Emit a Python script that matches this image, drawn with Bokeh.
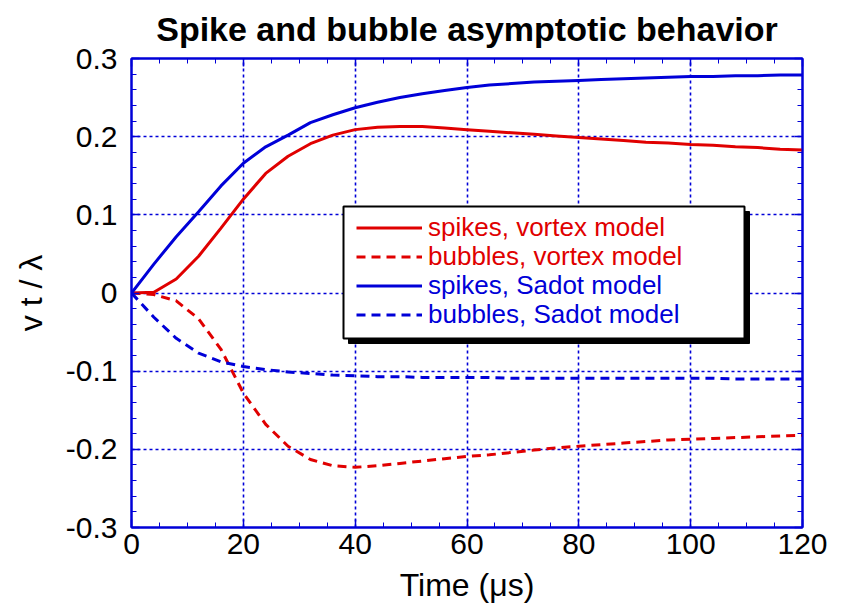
from bokeh.plotting import figure
from bokeh.models import (FixedTicker, LinearAxis, Legend, LegendItem,
                          BoxAnnotation, Range1d, CustomLabelingPolicy)
from bokeh.embed import file_html
from bokeh.resources import INLINE

# ---- data -----------------------------------------------------------------
time_us = [0, 4, 8, 12, 16, 20, 24, 28, 32, 36, 40, 44, 48, 52, 56, 60,
           64, 68, 72, 76, 80, 84, 88, 92, 96, 100, 104, 108, 112, 116, 120]

spikes_vortex = [0.000, 0.001, 0.018, 0.047, 0.083, 0.120, 0.153, 0.175,
                 0.191, 0.202, 0.209, 0.212, 0.213, 0.213, 0.211, 0.209,
                 0.207, 0.205, 0.203, 0.201, 0.199, 0.197, 0.195, 0.193,
                 0.192, 0.190, 0.189, 0.187, 0.186, 0.184, 0.183]

bubbles_vortex = [0.000, -0.002, -0.010, -0.033, -0.072, -0.128, -0.168,
                  -0.196, -0.213, -0.221, -0.223, -0.221, -0.218, -0.215,
                  -0.212, -0.209, -0.207, -0.204, -0.201, -0.198, -0.196,
                  -0.194, -0.192, -0.190, -0.188, -0.187, -0.186, -0.185,
                  -0.184, -0.183, -0.182]

spikes_sadot = [0.000, 0.037, 0.072, 0.104, 0.137, 0.166, 0.187, 0.202,
                0.218, 0.228, 0.237, 0.244, 0.250, 0.255, 0.259, 0.263,
                0.266, 0.268, 0.270, 0.271, 0.272, 0.273, 0.274, 0.275,
                0.276, 0.277, 0.277, 0.278, 0.278, 0.279, 0.279]

bubbles_sadot = [0.000, -0.031, -0.058, -0.077, -0.088, -0.094, -0.098,
                 -0.101, -0.103, -0.105, -0.106, -0.107, -0.107, -0.108,
                 -0.108, -0.108, -0.108, -0.109, -0.109, -0.109, -0.109,
                 -0.109, -0.109, -0.109, -0.109, -0.109, -0.109, -0.110,
                 -0.110, -0.110, -0.110]

series_labels = ["spikes, vortex model", "bubbles, vortex model",
                 "spikes, Sadot model", "bubbles, Sadot model"]

x_ticks = [0, 20, 40, 60, 80, 100, 120]
y_ticks = [-0.3, -0.2, -0.1, 0, 0.1, 0.2, 0.3]
y_tick_labels = ["-0.3", "-0.2", "-0.1", "0", "0.1", "0.2", "0.3"]

# ---- styling ----------------------------------------------------------------
RED = "#e00000"
BLUE = "#0000d8"
FONT = "Liberation Sans"
DASH = "9 6"

W, H = 843, 609
LEFT, RIGHT, TOP, BOTTOM = 131, 41, 58, 82

x_minor = [5 * i for i in range(25)]
y_minor = [round(-0.3 + 0.02 * i, 2) for i in range(31)]

p = figure(width=W, height=H, output_backend="svg", toolbar_location=None,
           x_range=Range1d(0, 120), y_range=Range1d(-0.3, 0.3),
           min_border_left=LEFT, min_border_right=RIGHT,
           min_border_top=TOP, min_border_bottom=BOTTOM,
           background_fill_color="white", border_fill_color="white")

p.title.text = "Spike and bubble asymptotic behavior"
p.title.text_font = FONT
p.title.text_font_size = "34px"
p.title.text_font_style = "bold"
p.title.text_color = "black"
p.title.align = "center"
p.title.vertical_align = "top"
p.title.standoff = 10

p.outline_line_color = BLUE
p.outline_line_width = 2
p.outline_line_alpha = 1

# the top and right axes carry tick marks only
no_labels = CustomLabelingPolicy(
    code="for (const i of indices) indices.unset(i); return indices")


def style_axis(ax, ticks, minor, show_labels):
    ax.ticker = FixedTicker(ticks=ticks, minor_ticks=minor)
    ax.axis_line_color = BLUE
    ax.axis_line_width = 2
    ax.major_tick_line_color = BLUE
    ax.major_tick_line_width = 1.5
    ax.minor_tick_line_color = BLUE
    ax.minor_tick_line_width = 1
    ax.major_tick_in = 8
    ax.major_tick_out = 0
    ax.minor_tick_in = 5
    ax.minor_tick_out = 0
    ax.major_label_text_font = FONT
    ax.major_label_text_color = "black"
    if show_labels:
        ax.major_label_text_font_size = "30px"
    else:
        ax.major_label_text_font_size = "1px"
        ax.major_label_policy = no_labels
        ax.major_label_standoff = 0


style_axis(p.xaxis[0], x_ticks, x_minor, True)
style_axis(p.yaxis[0], y_ticks, y_minor, True)
p.xaxis.major_label_standoff = 6
p.yaxis.major_label_standoff = 14
p.yaxis.major_label_overrides = dict(zip(y_ticks, y_tick_labels))

p.xaxis.axis_label = "Time (\u03bcs)"
p.xaxis.axis_label_text_font = FONT
p.xaxis.axis_label_text_font_size = "32px"
p.xaxis.axis_label_text_font_style = "normal"
p.xaxis.axis_label_text_color = "black"
p.xaxis.axis_label_standoff = 10

p.yaxis.axis_label = "v t / \u03bb"
p.yaxis.axis_label_text_font = FONT
p.yaxis.axis_label_text_font_size = "32px"
p.yaxis.axis_label_text_font_style = "normal"
p.yaxis.axis_label_text_color = "black"
p.yaxis.axis_label_standoff = 14

top_axis = LinearAxis()
style_axis(top_axis, x_ticks, x_minor, False)
p.add_layout(top_axis, "above")
right_axis = LinearAxis()
style_axis(right_axis, y_ticks, y_minor, False)
p.add_layout(right_axis, "right")

for g in (p.xgrid, p.ygrid):
    g.grid_line_color = BLUE
    g.grid_line_width = 1.6
    g.grid_line_dash = "3 3"
p.xgrid.ticker = FixedTicker(ticks=x_ticks)
p.ygrid.ticker = FixedTicker(ticks=y_ticks)

# ---- curves -------------------------------------------------------------------
r_sv = p.line(time_us, spikes_vortex, line_color=RED, line_width=3)
r_bv = p.line(time_us, bubbles_vortex, line_color=RED, line_width=3,
              line_dash=DASH)
r_ss = p.line(time_us, spikes_sadot, line_color=BLUE, line_width=3)
r_bs = p.line(time_us, bubbles_sadot, line_color=BLUE, line_width=3,
              line_dash=DASH)

# ---- legend box with drop shadow --------------------------------------------
fw = W - LEFT - RIGHT
fh = H - TOP - BOTTOM


def px_to_x(px):
    return (px - LEFT) / fw * 120.0


def py_to_y(py):
    return 0.3 - (py - TOP) / fh * 0.6


box_l, box_r, box_t, box_b = 343, 744, 206, 338
sh = 5
p.add_layout(BoxAnnotation(left=px_to_x(box_l + sh), right=px_to_x(box_r + sh),
                           top=py_to_y(box_t + sh), bottom=py_to_y(box_b + sh),
                           fill_color="black", fill_alpha=1,
                           line_color="black", line_alpha=1))
p.add_layout(BoxAnnotation(left=px_to_x(box_l), right=px_to_x(box_r),
                           top=py_to_y(box_t), bottom=py_to_y(box_b),
                           fill_color="white", fill_alpha=1,
                           line_color="black", line_width=2, line_alpha=1))

row_centers = [228, 257, 286, 315]
row_h = 29
entries = [(r_sv, RED), (r_bv, RED), (r_ss, BLUE), (r_bs, BLUE)]
for (rend, col), lab, cy in zip(entries, series_labels, row_centers):
    leg = Legend(items=[LegendItem(label=lab, renderers=[rend])],
                 location=(356 - LEFT, (H - BOTTOM) - cy - row_h / 2),
                 padding=0, margin=0, spacing=0,
                 glyph_width=66, glyph_height=row_h, label_height=row_h,
                 label_standoff=6,
                 label_text_font=FONT, label_text_font_size="26px",
                 label_text_color=col, label_text_baseline="middle",
                 border_line_alpha=0, background_fill_alpha=0)
    p.add_layout(leg)

open("out.html", "w").write(file_html(p, INLINE))
